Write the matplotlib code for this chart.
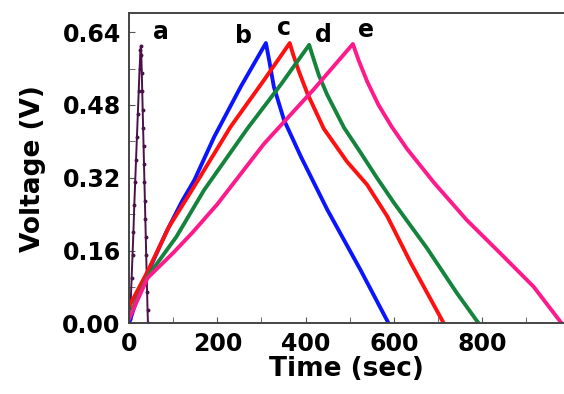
import numpy as np
import matplotlib.pyplot as plt
from matplotlib.ticker import MultipleLocator

# curve a: fast cycle with dots
t_a = [0, 2, 4, 6, 8, 10, 12, 14, 16, 18, 20, 22, 24, 26, 27, 28, 29, 30, 31, 32, 33, 34, 35, 36, 37, 38, 39, 40, 41, 42, 43]
v_a = [0.0, 0.01, 0.05, 0.10, 0.15, 0.20, 0.26, 0.31, 0.36, 0.41, 0.46, 0.51, 0.56, 0.60, 0.61, 0.59, 0.55, 0.51, 0.47, 0.43, 0.39, 0.35, 0.31, 0.27, 0.23, 0.19, 0.15, 0.11, 0.07, 0.03, 0.0]

# curve b (blue)
t_b = [0, 20, 42, 84, 121, 148, 193, 253, 310, 318, 328, 351, 389, 449, 524, 588]
v_b = [0.0, 0.06, 0.11, 0.20, 0.27, 0.315, 0.41, 0.52, 0.616, 0.575, 0.52, 0.447, 0.367, 0.25, 0.118, 0.0]

# curve c (red)
t_c = [0, 42, 91, 147, 230, 306, 364, 372, 385, 404, 441, 494, 539, 585, 637, 713]
v_c = [0.037, 0.114, 0.213, 0.30, 0.432, 0.535, 0.616, 0.59, 0.553, 0.505, 0.428, 0.355, 0.305, 0.235, 0.135, 0.0]

# curve d (green)
t_d = [0, 42, 107, 170, 268, 344, 408, 415, 430, 449, 487, 524, 560, 600, 675, 743, 792]
v_d = [0.015, 0.103, 0.19, 0.293, 0.428, 0.525, 0.612, 0.59, 0.545, 0.502, 0.43, 0.376, 0.322, 0.265, 0.165, 0.066, 0.0]

# curve e (pink)
t_e = [0, 42, 100, 144, 200, 306, 419, 507, 520, 540, 565, 595, 630, 690, 765, 841, 916, 980]
v_e = [0.01, 0.10, 0.155, 0.20, 0.262, 0.395, 0.515, 0.614, 0.578, 0.53, 0.48, 0.432, 0.383, 0.31, 0.227, 0.154, 0.081, 0.0]

letters = ['a', 'b', 'c', 'd', 'e']
letter_t = [72, 260, 350, 440, 536]
letter_v = [0.625, 0.616, 0.634, 0.619, 0.629]

plt.rcParams['font.family'] = ['DejaVu Sans']
plt.rcParams['font.weight'] = 'bold'

fig = plt.figure(figsize=(5.64, 3.94), dpi=100)
ax = fig.add_axes([0.2287, 0.179, 0.7713, 0.788])

ax.plot(t_a, v_a, color='#4a1248', lw=1.4, marker='o', ms=1.8)
ax.plot(t_b, v_b, color='#0a14ff', lw=2.8)
ax.plot(t_c, v_c, color='#ff1010', lw=2.8)
ax.plot(t_d, v_d, color='#14843c', lw=2.8)
ax.plot(t_e, v_e, color='#ff1a8c', lw=2.8)

for s, x, y in zip(letters, letter_t, letter_v):
    ax.text(x, y, s, ha='center', va='baseline', fontsize=17, fontweight='bold')

ax.set_xlim(0, 985)
ax.set_ylim(0, 0.682)
ax.xaxis.set_major_locator(MultipleLocator(200))
ax.xaxis.set_minor_locator(MultipleLocator(100))
ax.yaxis.set_major_locator(MultipleLocator(0.16))
ax.yaxis.set_minor_locator(MultipleLocator(0.08))
ax.yaxis.set_major_formatter(lambda v, p: f"{v:.2f}")
ax.tick_params(which='both', direction='in', color='#555555', labelsize=17, pad=6, length=4)
ax.spines['right'].set_visible(False)
for sp in ['left', 'bottom', 'top']:
    ax.spines[sp].set_color('#444444')
    ax.spines[sp].set_linewidth(1.4)

ax.set_xlabel('Time (sec)', fontsize=19, fontweight='bold', labelpad=0)
ax.set_ylabel('Voltage (V)', fontsize=19, fontweight='bold', labelpad=12)

fig.savefig('out.png', dpi=100)
